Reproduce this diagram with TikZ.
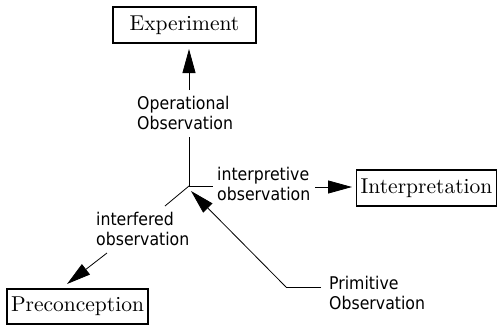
\documentclass[tikz,border=0pt]{standalone}
\usepackage{fontspec}
\newfontfamily\lblfont{DejaVu Sans Condensed}
\newfontfamily\boxfont{lmroman10-regular.otf}
\usetikzlibrary{arrows.meta}
\tikzset{
  box/.style={draw, line width=1.1pt, inner sep=0pt, minimum width=143pt, minimum height=36pt,
    font=\boxfont\fontsize{21.5}{25}\selectfont},
  lbl/.style={inner sep=0pt, align=left, font=\lblfont\fontsize{17.5}{20}\selectfont},
  edge/.style={line width=0.8pt},
  arr/.style={line width=0.8pt, -{Triangle[length=24pt,width=13pt]}},
}
\begin{document}
\begin{tikzpicture}[x=1pt,y=-1pt]
\useasboundingbox (0,0) rectangle (497,325);
% boxes
\node[box] (exp) at (184.5,25) {Experiment};
\node[box, minimum width=140pt] (int) at (426.5,188) {Interpretation};
\node[box, minimum width=141pt, minimum height=35pt] (pre) at (77.5,306.5) {Preconception};
% labels
\node[lbl, anchor=north west] (op) at (137,96) {Operational\\Observation};
\node[lbl, anchor=north west] (ip) at (217,167) {interpretive\\observation};
\node[lbl, anchor=north west] (if) at (96,212) {interfered\\observation};
\node[lbl, anchor=north west] (pr) at (329,276) {Primitive\\Observation};
% junction and line ends
\coordinate (J) at (189,186);
\coordinate (JTip) at (191,191);
\coordinate (opS) at (189,137);
\coordinate (opN) at (189,90);
\coordinate (expTip) at (189,49);
\coordinate (ipW) at (213,186);
\coordinate (ipE) at (315,187);
\coordinate (intTip) at (352,187);
\coordinate (ifN) at (165,206);
\coordinate (ifS) at (107,253);
\coordinate (preTip) at (67,284);
\coordinate (prW) at (321,287);
\coordinate (bend) at (286,287);
% connectors
\draw[edge] (J) -- (opS);
\draw[arr] (opN) -- (expTip);
\draw[edge] (J) -- (ipW);
\draw[arr] (ipE) -- (intTip);
\draw[edge] (J) -- (ifN);
\draw[arr] (ifS) -- (preTip);
\draw[edge] (prW) -- (bend);
\draw[arr] (bend) -- (JTip);
\end{tikzpicture}
\end{document}
